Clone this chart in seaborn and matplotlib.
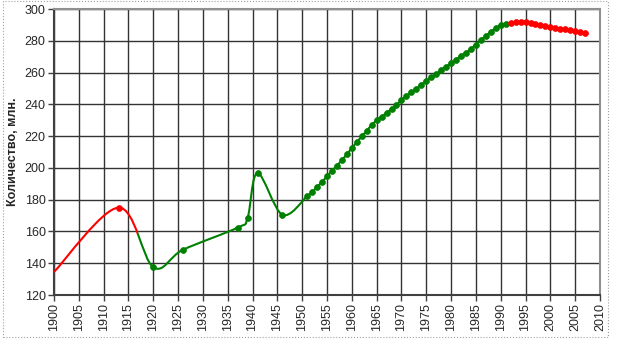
import numpy as np
import pandas as pd
import matplotlib
matplotlib.use("Agg")
import matplotlib.pyplot as plt
from matplotlib.path import Path
from matplotlib.patches import PathPatch, Rectangle
import seaborn as sns

years = [1900, 1913, 1920, 1926, 1937, 1939, 1941, 1946] + list(range(1951, 2008))
values = [134.5, 175.0, 137.5, 148.5, 162.4, 168.5, 196.8, 170.5,
          182.1, 184.8, 188.0, 191.2, 194.7, 198.1, 201.5, 204.8, 208.6, 212.4,
          216.2, 219.8, 223.4, 227.0, 229.9, 232.2, 234.7, 237.1, 239.6, 242.7,
          245.3, 247.6, 249.9, 252.4, 254.7, 257.0, 259.2, 261.5, 263.8, 265.9,
          268.2, 270.5, 272.6, 274.9, 277.6, 280.4, 283.1, 285.6, 288.0, 289.7,
          290.7,
          291.4, 291.8, 292.0, 291.8, 291.4, 290.7, 290.1, 289.5,
          288.8, 288.2, 287.6, 287.2, 286.5, 285.9, 285.3, 284.8]

# colour periods: (from, to, colour)
periods = [(1899, 1917, "#ff0000"), (1917, 1991.3, "#008000"), (1991.3, 2011, "#ff0000")]


def smooth_path(xs, ys):
    # excel-like smoothed line: catmull-rom as cubic bezier
    p = np.column_stack([xs, ys]).astype(float)
    n = len(p)
    verts = [p[0]]
    codes = [Path.MOVETO]
    for i in range(n - 1):
        p0 = p[i - 1] if i > 0 else p[i]
        p1 = p[i]
        p2 = p[i + 1]
        p3 = p[i + 2] if i + 2 < n else p[i + 1]
        c1 = p1 + (p2 - p0) / 6
        c2 = p2 - (p3 - p1) / 6
        verts += [c1, c2, p2]
        codes += [Path.CURVE4] * 3
    return Path(verts, codes)


sns.set_style("white")
plt.rcParams["font.family"] = ["Liberation Sans", "DejaVu Sans"]

fig = plt.figure(figsize=(6.31, 3.51), dpi=100)
ax = fig.add_axes([54 / 631, 56 / 351, 546 / 631, 286 / 351])

df = pd.DataFrame({"year": years, "val": values})
path = smooth_path(years, values)
for x0, x1, col in periods:
    patch = PathPatch(path, facecolor="none", edgecolor=col, lw=1.5, zorder=3)
    ax.add_patch(patch)
    clip = Rectangle((x0, 0), x1 - x0, 1000, transform=ax.transData)
    patch.set_clip_path(clip)
    sub = df[(df.year > x0) & (df.year <= x1) & (df.year != 1900)]
    sns.scatterplot(data=sub, x="year", y="val", color=col, s=18,
                    marker="o", edgecolor=col, linewidth=0.5, ax=ax, zorder=4)

ax.set_xlim(1900, 2010)
ax.set_ylim(120, 300)
ax.set_xticks(range(1900, 2011, 5))
ax.set_yticks(range(120, 301, 20))
ax.tick_params(axis="x", labelrotation=90, labelsize=9, length=4, width=1,
               color="#404040", pad=2, bottom=True)
ax.tick_params(axis="y", labelsize=9, length=4, width=1, color="#404040",
               pad=2, left=True)
ax.grid(True, color="#333333", lw=1.0)
ax.set_axisbelow(True)
for s in ax.spines.values():
    s.set_color("#909090")
    s.set_linewidth(1.5)
ax.spines["left"].set_color("#404040")
ax.spines["bottom"].set_color("#404040")
ax.set_xlabel("")
ax.set_ylabel("Количество, млн.", fontsize=9, fontweight="bold", labelpad=4)

fig.patches.append(Rectangle((3 / 631, 14 / 351), 605 / 631, 336 / 351,
                             transform=fig.transFigure, fill=False,
                             edgecolor="#a0a0a0", lw=0.8, ls=":"))

fig.savefig("out.png", dpi=100)
